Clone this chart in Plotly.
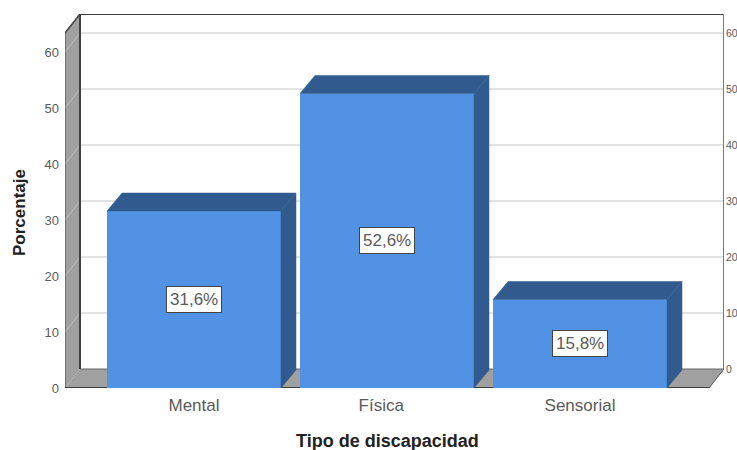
import plotly.graph_objects as go

categories = ["Mental", "Física", "Sensorial"]
values = [31.6, 52.6, 15.8]
labels = ["31,6%", "52,6%", "15,8%"]
tick_values = [0, 10, 20, 30, 40, 50, 60]

FRONT = "#5192E5"
DARK = "#315A8E"
WALL = "#A0A0A0"
GRID = "#E2E2E2"
EDGE = "#404040"
TEXT = "#5A5A5A"
FONT = "Liberation Sans"

PX_X = 193.0
PX_Y = 5.6
dx = 15 / PX_X
dy = 19 / PX_Y
bar_dy = 18 / PX_Y
bar_w = 174 / PX_X
x_lo = (65 - 194) / PX_X
x_hi = (724 - 194) / PX_X
y_hi = (388 - 14) / PX_Y
x_front_hi = x_hi - dx
y_front_hi = y_hi - dy


def poly(xs, ys, fill, line=None, width=0):
    path = "M " + " L ".join(f"{a},{b}" for a, b in zip(xs, ys)) + " Z"
    return dict(type="path", path=path, fillcolor=fill, layer="below", xref="x", yref="y",
                line=dict(color=line or fill, width=width))


def seg(x0, y0, x1, y1, color, width):
    return dict(type="line", x0=x0, y0=y0, x1=x1, y1=y1, xref="x", yref="y", layer="below",
                line=dict(color=color, width=width))


shapes = [
    poly([x_lo, x_lo + dx, x_lo + dx, x_lo], [0, dy, y_hi, y_front_hi], WALL),
    poly([x_lo, x_lo + dx, x_hi, x_front_hi], [0, dy, dy, 0], WALL),
]
for t in tick_values[1:]:
    shapes.append(seg(x_lo + dx, t + dy, x_hi, t + dy, GRID, 2))
    shapes.append(seg(x_lo, t, x_lo + dx, t + dy, "#BDBDBD", 1))
shapes += [
    seg(x_lo + dx, dy, x_lo + dx, y_hi, EDGE, 2),
    seg(x_lo, 0, x_lo, y_front_hi, EDGE, 1),
    seg(x_lo, y_front_hi, x_lo + dx, y_hi, EDGE, 1.5),
    seg(x_lo + dx, y_hi, x_hi, y_hi, EDGE, 2),
    seg(x_hi, dy, x_hi, y_hi, "#777777", 2),
    seg(x_lo + dx, dy, x_hi, dy, "#666666", 1),
    seg(x_hi, dy, x_front_hi, 0, "#555555", 1),
    seg(x_lo, 0, x_front_hi, 0, EDGE, 2),
]

fig = go.Figure()
fig.add_trace(go.Bar(x=list(range(3)), y=values, width=bar_w, marker=dict(color=FRONT, line=dict(width=0)),
                     hoverinfo="skip", showlegend=False))
for i, v in enumerate(values):
    l, r = i - bar_w / 2, i + bar_w / 2
    fig.add_trace(go.Scatter(x=[l, l + dx, r + dx, r, l], y=[v, v + bar_dy, v + bar_dy, v, v], mode="lines",
                             fill="toself", fillcolor=DARK, line=dict(color=DARK, width=0.5),
                             hoverinfo="skip", showlegend=False))
    fig.add_trace(go.Scatter(x=[r, r + dx, r + dx, r, r], y=[0, bar_dy, v + bar_dy, v, 0], mode="lines",
                             fill="toself", fillcolor=DARK, line=dict(color=DARK, width=0.5),
                             hoverinfo="skip", showlegend=False))

# right-hand axis reads the back wall, so it is shifted by the depth
fig.add_trace(go.Scatter(x=[0], y=[0], yaxis="y2", mode="markers", marker=dict(opacity=0),
                         hoverinfo="skip", showlegend=False))

annotations = [
    dict(x=i, y=v / 2, text=lab, showarrow=False, xref="x", yref="y",
         font=dict(family=FONT, size=17, color=TEXT), bgcolor="white", bordercolor="#444444",
         borderwidth=1, borderpad=3)
    for i, (v, lab) in enumerate(zip(values, labels))
]
PLOT_W = 724 - 65
PLOT_H = 388 - 14
annotations.append(dict(text="<b>Tipo de discapacidad</b>", showarrow=False, xref="paper", yref="paper",
                        x=(387 - 65) / PLOT_W, y=(388 - 441) / PLOT_H, xanchor="center", yanchor="middle",
                        font=dict(family=FONT, size=18, color="#222222")))
annotations.append(dict(text="<b>Porcentaje</b>", showarrow=False, xref="paper", yref="paper", textangle=-90,
                        x=(19 - 65) / PLOT_W, y=(388 - 212) / PLOT_H, xanchor="center", yanchor="middle",
                        font=dict(family=FONT, size=17, color="#222222")))

fig.update_layout(
    width=737, height=450, autosize=False,
    margin=dict(l=65, r=13, t=14, b=62),
    paper_bgcolor="white", plot_bgcolor="white",
    shapes=shapes, annotations=annotations, showlegend=False,
    font=dict(family=FONT, color=TEXT),
    xaxis=dict(range=[x_lo, x_hi], tickmode="array", tickvals=[0, 0.97, 2], ticktext=categories,
               showgrid=False, zeroline=False, showline=False, ticks="", automargin=False,
               ticklabelstandoff=5,
               tickfont=dict(size=17, color=TEXT)),
    yaxis=dict(range=[0, y_hi], tickmode="array", tickvals=tick_values, showgrid=False, zeroline=False,
               showline=False, ticks="", ticklabelstandoff=5, automargin=False,
               tickfont=dict(size=13, color=TEXT)),
    yaxis2=dict(range=[-dy, y_hi - dy], overlaying="y", side="right", tickmode="array",
                tickvals=tick_values, showgrid=False, zeroline=False, showline=False, ticks="",
                ticklabelstandoff=1, automargin=False, tickfont=dict(size=10.5, color=TEXT)),
)
fig.write_html("out.html", default_width="737px", default_height="450px",
               config={"displayModeBar": False},
               post_script="document.body.style.margin='0';document.documentElement.style.overflow='hidden';")
